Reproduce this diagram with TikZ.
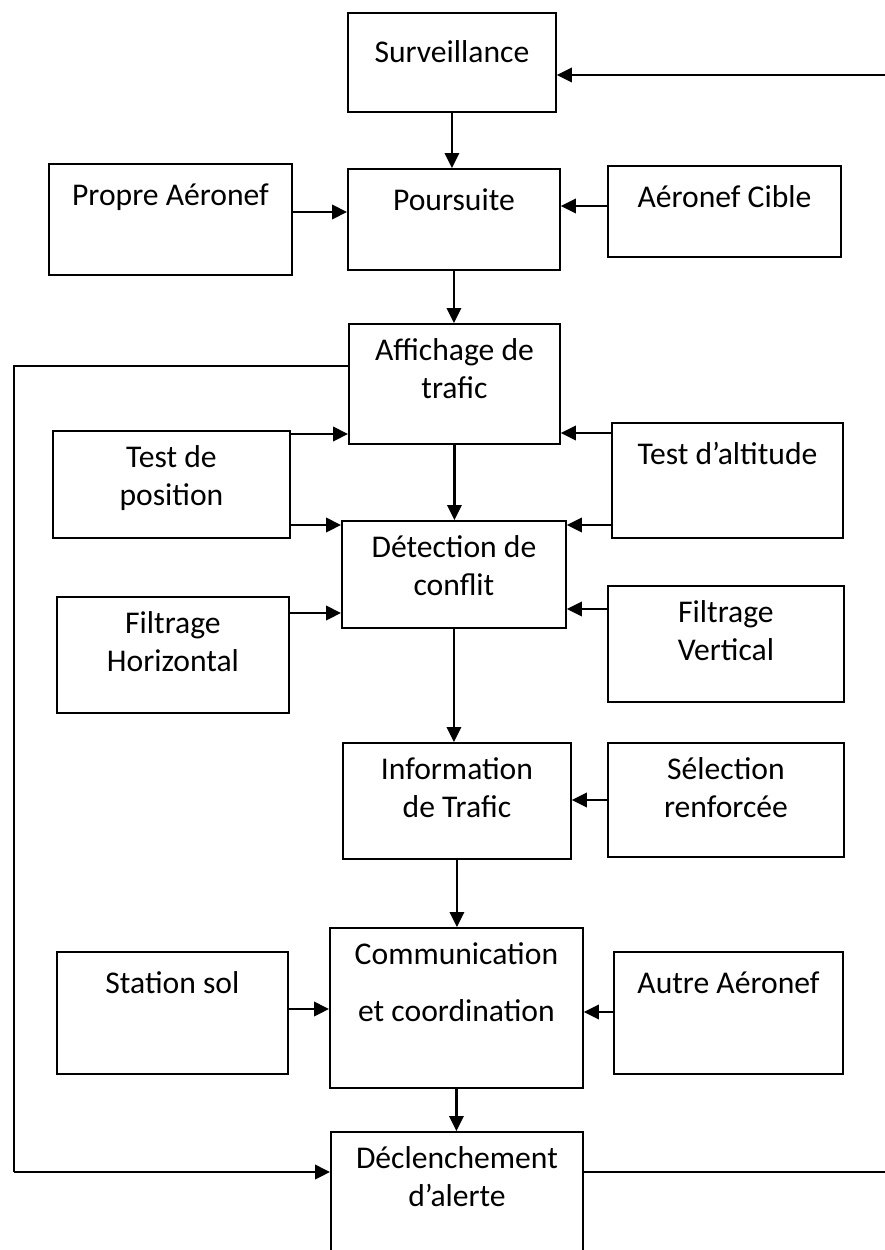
\documentclass[tikz,border=0pt]{standalone}
\usepackage{fontspec}
\setmainfont{Carlito}
\usetikzlibrary{arrows.meta}

\begin{document}
\begin{tikzpicture}[x=0.02cm,y=-0.02cm,>={Triangle[length=3mm,width=2.9mm]}]
\tikzstyle{box}=[draw,line width=1.1pt,anchor=north west,inner sep=0pt]
\tikzstyle{txt}=[anchor=north,align=center,inner sep=0pt,yshift=-0.31cm,font=\fontsize{18}{21.6}\selectfont,execute at begin node=\strut]
\tikzstyle{arr}=[->,line width=1.2pt]
\useasboundingbox (0,0) rectangle (885,1250);
\node[box,minimum width=4.16cm,minimum height=1.98cm,label={[txt,yshift=-0.16cm]north:Surveillance}] (surv) at (347,12) {};
\node[box,minimum width=4.86cm,minimum height=2.22cm,label={[txt]north:Propre Aéronef}] (propre) at (48,163) {};
\node[box,minimum width=4.24cm,minimum height=2.02cm,label={[txt]north:Poursuite}] (pours) at (347,168) {};
\node[box,minimum width=4.66cm,minimum height=1.82cm,label={[txt]north:Aéronef Cible}] (cible) at (607,165) {};
\node[box,minimum width=4.22cm,minimum height=2.40cm,label={[txt]north:{Affichage de\\trafic}}] (affich) at (348,323) {};
\node[box,minimum width=4.74cm,minimum height=2.14cm,label={[txt]north:{Test de\\position}}] (tpos) at (52,430) {};
\node[box,minimum width=4.62cm,minimum height=2.30cm,label={[txt]north:Test d’altitude}] (talt) at (611,422) {};
\node[box,minimum width=4.48cm,minimum height=2.14cm,label={[txt]north:{Détection de\\conflit}}] (detect) at (341,520) {};
\node[box,minimum width=4.64cm,minimum height=2.32cm,label={[txt]north:{Filtrage\\Horizontal}}] (fhor) at (56,596) {};
\node[box,minimum width=4.72cm,minimum height=2.32cm,label={[txt]north:{Filtrage\\Vertical}}] (fver) at (607,585) {};
\node[box,minimum width=4.56cm,minimum height=2.32cm,label={[txt]north:{Information\\de Trafic}}] (info) at (342,742) {};
\node[box,minimum width=4.72cm,minimum height=2.28cm,label={[txt]north:{Sélection\\renforcée}}] (selec) at (607,742) {};
\node[box,minimum width=5.06cm,minimum height=3.20cm,label={[txt]north:{Communication\\[10.7pt]et coordination}}] (comm) at (329,927) {};
\node[box,minimum width=4.62cm,minimum height=2.44cm,label={[txt]north:Station sol}] (station) at (56,951) {};
\node[box,minimum width=4.58cm,minimum height=2.44cm,label={[txt]north:Autre Aéronef}] (autre) at (613,951) {};
\node[box,minimum width=5.04cm,minimum height=2.60cm,label={[txt]north:{Déclenchement\\d’alerte}}] (decl) at (330,1131) {};
\coordinate (rin) at (885,75);
\coordinate (fbtop) at (14,366);
\coordinate (fbbot) at (14,1172);
\coordinate (rout) at (885,1172);
\draw[arr] (rin) -- (rin -| surv.east);
\draw[arr] (surv.south) -- (surv.south |- pours.north);
\draw[arr] (propre.east |- 0,212) -- (pours.west |- 0,212);
\draw[arr] (cible.west |- 0,206) -- (pours.east |- 0,206);
\draw[arr] (pours.south) -- (pours.south |- affich.north);
\draw[line width=0.8pt] (affich.west |- fbtop) -- (fbtop) -- (fbbot);
\draw[arr] (fbbot) -- (decl.west |- fbbot);
\draw[arr] (tpos.east |- 0,434) -- (affich.west |- 0,434);
\draw[arr] (tpos.east |- 0,525) -- (detect.west |- 0,525);
\draw[arr] (talt.west |- 0,433) -- (affich.east |- 0,433);
\draw[arr] (talt.west |- 0,525) -- (detect.east |- 0,525);
\draw[arr] (affich.south) -- (affich.south |- detect.north);
\draw[arr] (fhor.east |- 0,613) -- (detect.west |- 0,613);
\draw[arr] (fver.west |- 0,609) -- (detect.east |- 0,609);
\draw[arr] (detect.south) -- (detect.south |- info.north);
\draw[arr] (selec.west |- 0,800) -- (info.east |- 0,800);
\draw[arr] (info.south) -- (info.south |- comm.north);
\draw[arr] (station.east |- 0,1009) -- (comm.west |- 0,1009);
\draw[arr] (autre.west |- 0,1012) -- (comm.east |- 0,1012);
\draw[arr] (comm.south) -- (comm.south |- decl.north);
\draw[line width=1.2pt] (decl.east |- rout) -- (rout);
\end{tikzpicture}
\end{document}
